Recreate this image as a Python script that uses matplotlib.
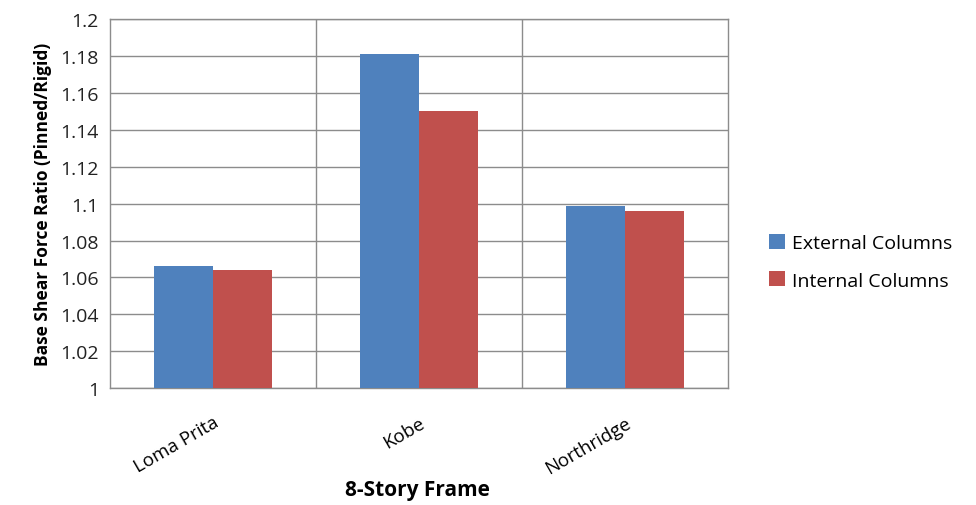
import numpy as np
from matplotlib import pyplot as plt
from matplotlib.ticker import FuncFormatter

quakes = ["Loma Prita", "Kobe", "Northridge"]
external = [1.066, 1.181, 1.099]
internal = [1.064, 1.150, 1.096]
series_names = ["External Columns", "Internal Columns"]

plt.rcParams['font.family'] = ['Open Sans', 'DejaVu Sans']

fig = plt.figure(figsize=(9.76, 5.06), dpi=100)
ax = fig.add_axes([0.1127, 0.231, 0.6333, 0.729])

x = np.arange(len(quakes))
w = 0.287
b1 = ax.bar(x - w/2, np.array(external) - 1, w, bottom=1, color='#4F81BD', zorder=3)
b2 = ax.bar(x + w/2, np.array(internal) - 1, w, bottom=1, color='#C0504D', zorder=3)

ax.set_xlim(-0.5, 2.5)
ax.set_ylim(1, 1.2)
ax.set_yticks(np.arange(1, 1.2001, 0.02))
ax.yaxis.set_major_formatter(FuncFormatter(lambda v, p: "%g" % round(v, 2)))
ax.tick_params(axis='y', length=0, labelsize=14, pad=8, labelcolor='#222222')

# category separators on the minor ticks
ax.set_xticks([0.5, 1.5], minor=True)
ax.set_xticks(x)
ax.set_xticklabels(quakes, rotation=30, ha='right', rotation_mode='anchor', fontsize=13.5)
ax.tick_params(axis='x', which='both', length=0, pad=18)
ax.grid(axis='y', color='#8c8c8c', linewidth=1, zorder=0)
ax.grid(axis='x', which='minor', color='#8c8c8c', linewidth=1, zorder=0)
for s in ax.spines.values():
    s.set_color('#8c8c8c')
    s.set_linewidth(1)

ax.set_ylabel("Base Shear Force Ratio (Pinned/Rigid)", fontsize=12.5, fontweight='bold', labelpad=6)
fig.text(0.428, 0.030, "8-Story Frame", fontsize=15, fontweight='bold', ha='center', va='center')

fig.legend([b1, b2], series_names, loc='center left', bbox_to_anchor=(0.788, 0.481),
           frameon=False, fontsize=14, handlelength=0.8, handleheight=0.8,
           handletextpad=0.4, labelspacing=1.0, borderaxespad=0, borderpad=0)

plt.savefig("out.png")
plt.close()
